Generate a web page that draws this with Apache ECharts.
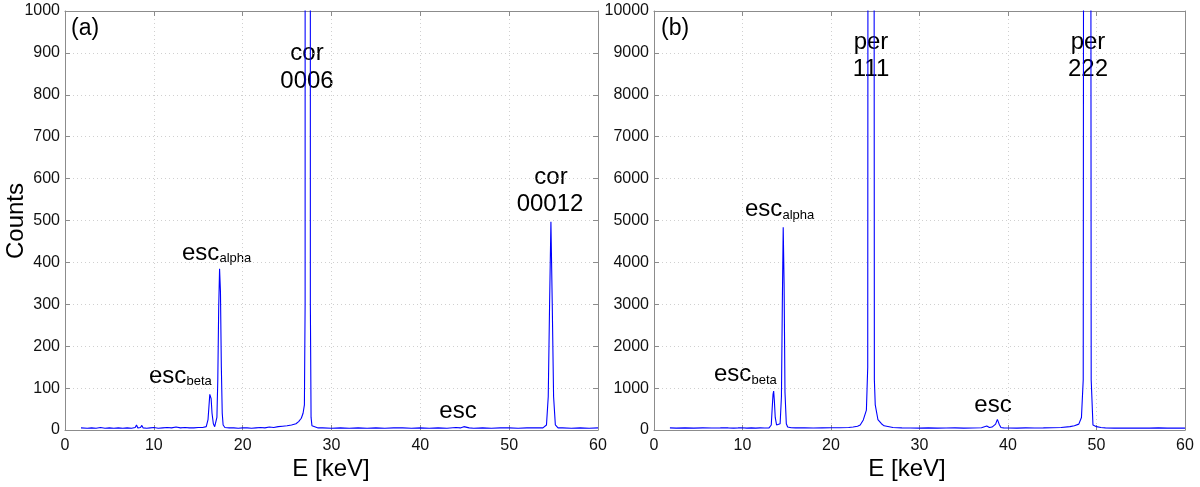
<!DOCTYPE html>
<html>
<head>
<meta charset="utf-8">
<script src="https://cdn.jsdelivr.net/npm/echarts@6/dist/echarts.min.js"></script>
<style>html,body{margin:0;padding:0;background:#fff}#c{width:1200px;height:487px}</style>
</head>
<body>
<div id="c"></div>
<script>
// Panel (a): energy [keV] and counts
const energyA = [1.8,2.0,2.5,3.0,3.5,4.0,4.5,5.0,5.5,6.0,6.5,7.0,7.5,7.9,8.05,8.2,8.5,8.65,8.8,9.2,9.6,10.0,10.5,11.0,11.5,12.0,12.5,13.0,13.5,14.0,14.5,15.0,15.5,15.9,16.1,16.2,16.3,16.35,16.45,16.55,16.7,16.85,17.0,17.1,17.2,17.3,17.4,17.5,17.6,17.7,17.8,18.0,18.5,19.0,19.5,20.0,20.5,21.0,21.5,22.0,22.5,23.0,23.5,24.0,24.5,25.0,25.5,26.0,26.3,26.6,26.8,26.95,27.03,27.07,27.35,27.58,27.62,27.7,27.8,28.0,28.5,29.0,30.0,31.0,32.0,33.0,34.0,35.0,36.0,37.0,38.0,39.0,40.0,41.0,42.0,43.0,44.0,44.5,44.7,44.9,45.1,45.5,46.0,47.0,48.0,49.0,50.0,51.0,52.0,53.0,53.8,54.2,54.4,54.55,54.7,54.85,55.0,55.2,55.5,56.0,57.0,58.0,59.0,60.0];
const countsA = [5,6,4,5,4,6,4,5,4,5,4,5,4,6,12,5,6,11,5,4,5,6,4,5,6,5,7,5,6,5,5,6,6,8,25,55,85,89,75,40,15,8,10,30,120,290,385,330,150,40,12,6,5,5,4,5,5,4,5,6,5,7,6,8,9,10,12,15,20,28,40,60,300,20000,30000,20000,300,30,10,6,5,5,4,5,4,5,4,5,4,5,5,4,5,4,5,4,6,5,9,8,5,5,4,5,4,5,5,4,5,5,5,12,80,300,497,300,80,12,5,5,4,5,4,5];

// Panel (b): energy [keV] and counts
const energyB = [1.8,2.5,3.5,4.5,5.5,6.5,7.5,7.9,8.0,8.1,8.4,8.5,8.6,9.0,9.5,9.85,9.95,10.05,10.5,11.0,11.5,12.0,12.5,13.0,13.25,13.35,13.45,13.52,13.6,13.7,13.85,14.05,14.25,14.4,14.5,14.6,14.7,14.8,14.95,15.1,15.5,16.0,17.0,18.0,19.0,20.0,21.0,22.0,22.5,23.0,23.3,23.65,24.0,24.15,24.22,24.52,24.82,24.9,25.0,25.3,25.7,26.0,27.0,28.0,29.0,30.0,31.0,32.0,33.0,34.0,35.0,36.0,37.0,37.6,37.9,38.2,38.6,38.8,39.0,39.2,39.5,40.0,41.0,42.0,43.0,44.0,45.0,46.0,47.0,47.5,48.0,48.3,48.5,48.6,48.97,49.3,49.4,49.6,50.0,50.5,51.0,52.0,53.0,54.0,55.0,56.0,57.0,58.0,59.0,60.0];
const countsB = [50,45,50,45,50,48,50,55,100,55,50,80,50,45,50,55,90,50,45,50,45,50,48,50,120,500,850,928,700,300,120,80,150,800,3000,4840,3500,900,150,70,55,50,50,48,50,52,55,60,70,90,120,240,476,1500,30000,60000,30000,1200,600,250,150,100,60,50,48,45,50,45,48,50,45,48,55,95,60,70,140,255,140,60,50,48,45,50,48,50,55,60,80,100,140,300,1200,30000,60000,30000,1200,120,80,60,50,45,48,45,48,45,50,45,48,45];

// Tick values
const xTicksMax = 60, xTickStep = 10;
const yMaxA = 1000, yStepA = 100;
const yMaxB = 10000, yStepB = 1000;

const pairs = (xs, ys) => xs.map((x, i) => [x, ys[i]]);

const FONT = '"Liberation Sans", Arial, sans-serif';
const axisGray = '#8c8c8c';
const plain = v => String(v);

function primaryX(gi) {
  return {
    type: 'value', gridIndex: gi, min: 0, max: xTicksMax, interval: xTickStep, position: 'bottom',
    axisLine: { show: true, onZero: false, lineStyle: { color: axisGray, width: 1 } },
    axisTick: { show: true, inside: true, length: 5, lineStyle: { color: axisGray } },
    axisLabel: { color: '#111', fontSize: 16, fontFamily: FONT, margin: 8, formatter: plain },
    splitLine: { show: true, lineStyle: { color: '#d0d0d0', type: [1, 3], width: 1 } }
  };
}
function secondaryX(gi) {
  return {
    type: 'value', gridIndex: gi, min: 0, max: xTicksMax, interval: xTickStep, position: 'top',
    axisLine: { show: true, onZero: false, lineStyle: { color: axisGray, width: 1 } },
    axisTick: { show: true, inside: true, length: 5, lineStyle: { color: axisGray } },
    axisLabel: { show: false }, splitLine: { show: false }
  };
}
function primaryY(gi, max, step) {
  return {
    type: 'value', gridIndex: gi, min: 0, max: max, interval: step, position: 'left',
    axisLine: { show: true, onZero: false, lineStyle: { color: axisGray, width: 1 } },
    axisTick: { show: true, inside: true, length: 5, lineStyle: { color: axisGray } },
    axisLabel: { color: '#111', fontSize: 16, fontFamily: FONT, margin: 5, formatter: plain },
    splitLine: { show: true, lineStyle: { color: '#d0d0d0', type: [1, 3], width: 1 } }
  };
}
function secondaryY(gi, max, step) {
  return {
    type: 'value', gridIndex: gi, min: 0, max: max, interval: step, position: 'right',
    axisLine: { show: true, onZero: false, lineStyle: { color: axisGray, width: 1 } },
    axisTick: { show: true, inside: true, length: 5, lineStyle: { color: axisGray } },
    axisLabel: { show: false }, splitLine: { show: false }
  };
}

function txt(x, y, s, size, align) {
  return {
    type: 'text', x: x, y: y, silent: true,
    style: { text: s, fontSize: size, fontFamily: FONT, fill: '#000',
      align: align || 'center', verticalAlign: 'middle' }
  };
}

const chart = echarts.init(document.getElementById('c'), null, { renderer: 'canvas' });
chart.setOption({
  animation: false,
  backgroundColor: '#fff',
  grid: [
    { left: 65, top: 11, width: 533, height: 419 },
    { left: 654, top: 11, width: 531, height: 419 }
  ],
  xAxis: [primaryX(0), secondaryX(0), primaryX(1), secondaryX(1)],
  yAxis: [primaryY(0, yMaxA, yStepA), secondaryY(0, yMaxA, yStepA), primaryY(1, yMaxB, yStepB), secondaryY(1, yMaxB, yStepB)],
  series: [
    { type: 'line', xAxisIndex: 0, yAxisIndex: 0, data: pairs(energyA, countsA), showSymbol: false, symbol: 'none', clip: true,
      lineStyle: { color: '#0000ff', width: 1.1 } },
    { type: 'line', xAxisIndex: 2, yAxisIndex: 2, data: pairs(energyB, countsB), showSymbol: false, symbol: 'none', clip: true,
      lineStyle: { color: '#0000ff', width: 1.1 } }
  ],
  graphic: [
    // axis titles
    { type: 'text', x: 16, y: 221, rotation: Math.PI / 2, silent: true,
      style: { text: 'Counts', fontSize: 24, fontFamily: FONT, fill: '#000', align: 'center', verticalAlign: 'middle' } },
    txt(331, 469, 'E [keV]', 24),
    txt(907, 469, 'E [keV]', 24),
    // panel tags
    txt(71, 29, '(a)', 23, 'left'),
    txt(661, 29, '(b)', 23, 'left'),
    // panel (a) annotations
    txt(307, 53, 'cor', 24),
    txt(307, 81, '0006', 24),
    txt(551, 177, 'cor', 24),
    txt(550, 204, '00012', 24),
    txt(182, 253, 'esc', 24, 'left'),
    txt(219.5, 258, 'alpha', 13, 'left'),
    txt(149, 376, 'esc', 24, 'left'),
    txt(186.5, 381, 'beta', 13, 'left'),
    txt(458, 411, 'esc', 24),
    // panel (b) annotations
    txt(871, 42, 'per', 24),
    txt(871, 69, '111', 24),
    txt(1088, 42, 'per', 24),
    txt(1088, 69, '222', 24),
    txt(745, 209, 'esc', 24, 'left'),
    txt(782.5, 215, 'alpha', 13, 'left'),
    txt(714, 374, 'esc', 24, 'left'),
    txt(751.5, 380, 'beta', 13, 'left'),
    txt(993, 405, 'esc', 24)
  ]
});
</script>
</body>
</html>
